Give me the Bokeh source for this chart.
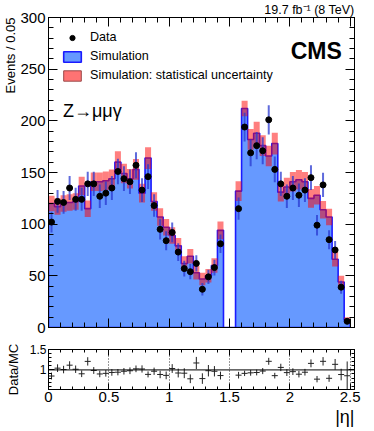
import numpy as np
from bokeh.plotting import figure
from bokeh.layouts import column
from bokeh.models import (ColumnDataSource, Range1d, SingleIntervalTicker, LinearAxis,
                          Label, Legend, LegendItem, Span, CustomJSTickFormatter, Title)
from bokeh.embed import file_html
from bokeh.resources import INLINE

# ---------------- data ----------------
bin_width = 0.05
n_bins = 50
# MC (simulation) counts per bin of |eta| (0.05 wide); gap bins 1.45-1.55 are empty
mc = [120, 117, 120, 121, 122, 137, 115, 141, 141, 142,
      144, 160, 149, 144, 153, 130, 164, 122, 107, 97,
      89, 79, 62, 69, 53, 47, 50, 60, 94, 0,
      0, 132, 212, 182, 188, 176, 166, 178, 131, 136,
      141, 143, 141, 125, 128, 114, 107, 66, 44, 7]
# MC statistical uncertainty (half width of the band)
mc_err = [7.5, 8, 8, 8, 8, 9, 8, 9, 9, 9,
          9, 10.5, 9.5, 9.5, 10, 9, 10.5, 9, 8.5, 8,
          8, 7.5, 7, 7, 6.5, 6, 6.5, 7, 8.5, 0,
          0, 9.5, 7.5, 10, 11, 10, 10, 10.5, 9, 9,
          9.5, 9.5, 9.5, 9, 9, 8.5, 8, 7, 6, 3]
# observed data counts (NaN in the EB/EE gap)
data = [102, 122, 121, 135, 124, 124, 139, 139, 127, 130,
        135, 151, 144, 141, 157, 133, 146, 118, 95, 84,
        92, 73, 57, 54, 62, 37, 49, 58, 81, np.nan,
        np.nan, 115, 194, 169, 176, 171, 201, 153, 139, 127,
        135, 128, 133, 145, 99, 138, 85, 75, 39, 6]

x_ticks_major = 0.5
y_ticks_major = 50

# ---------------- derived ----------------
mc_a = np.array(mc, dtype=float)
err_a = np.array(mc_err, dtype=float)
data_a = np.array(data, dtype=float)
lo = np.round(np.arange(n_bins) * bin_width, 4)
hi = lo + bin_width
ctr = lo + bin_width / 2
data_err = np.sqrt(data_a)

# step outline of simulated histogram (closed polygon down to zero)
sx, sy = [], []
for i in range(n_bins):
    sx += [lo[i], hi[i]]
    sy += [mc_a[i], mc_a[i]]
px = [lo[0]] + sx + [hi[-1]]
py = [0.0] + sy + [0.0]

FONT = "Liberation Sans"
BLUE_FILL = "#6699ff"
BLUE_LINE = "#1a1aff"
NAN1 = [np.nan]

XR = Range1d(0, 2.5356)
YR = Range1d(0, 300)


def inner_axis(ax, maj=9, mnr=5):
    ax.major_tick_in = maj
    ax.major_tick_out = 0
    ax.minor_tick_in = mnr
    ax.minor_tick_out = 0
    ax.axis_line_color = "black"
    ax.major_tick_line_color = "black"
    ax.minor_tick_line_color = "black"
    ax.major_label_text_font = FONT
    ax.major_label_text_color = "black"
    ax.axis_label_text_font = FONT
    ax.axis_label_text_font_style = "normal"
    ax.axis_label_text_color = "black"


def blank_axis(ax):
    ax.major_label_text_font_size = "1px"
    ax.major_label_text_color = None
    ax.major_label_standoff = 0
    ax.axis_label = None


fmt = CustomJSTickFormatter(code="return String(Math.round(tick*100)/100);")

# ---------------- main figure ----------------
p = figure(frame_width=306, frame_height=310, x_range=XR, y_range=YR,
           output_backend="svg", toolbar_location=None,
           min_border_left=48, min_border_right=20, min_border_top=17, min_border_bottom=14,
           background_fill_color="white", border_fill_color="white")
p.outline_line_color = "black"
p.grid.visible = False
p.title.text = "19.7 fb\u207b\u00b9 (8 TeV)"
p.title.align = "right"
p.title.text_font = FONT
p.title.text_font_size = "12.5px"
p.title.text_font_style = "normal"
p.title.text_color = "black"
p.title.standoff = 1

xt = SingleIntervalTicker(interval=x_ticks_major, num_minor_ticks=5)
yt = SingleIntervalTicker(interval=y_ticks_major, num_minor_ticks=5)

xa = p.xaxis[0]
xa.ticker = xt
inner_axis(xa)
blank_axis(xa)

ya = p.yaxis[0]
ya.ticker = yt
inner_axis(ya)
ya.major_label_text_font_size = "15px"
ya.major_label_standoff = 3

# y-axis title, top-aligned (ROOT style)
p.add_layout(Title(text="Events / 0.05", align="right", text_font=FONT, text_font_size="13px",
                   text_font_style="normal", text_color="black", standoff=0, offset=0), "left")

top_ax = LinearAxis(ticker=xt)
inner_axis(top_ax)
blank_axis(top_ax)
p.add_layout(top_ax, "above")
right_ax = LinearAxis(ticker=yt)
inner_axis(right_ax)
blank_axis(right_ax)
p.add_layout(right_ax, "right")

# simulation histogram
r_sim = p.patch(px, py, fill_color=BLUE_FILL, line_color=BLUE_LINE, line_width=1.6)
# statistical uncertainty band
band_src = ColumnDataSource(dict(left=lo, right=hi, bottom=mc_a - err_a, top=mc_a + err_a))
p.quad(left="left", right="right", bottom="bottom", top="top", source=band_src,
       fill_color="#ff0000", fill_alpha=0.5, line_color=None)
# data
dsrc = ColumnDataSource(dict(x=ctr, y=data_a, y0=data_a - data_err, y1=data_a + data_err))
p.segment(x0="x", y0="y0", x1="x", y1="y1", source=dsrc, line_color="#2a3ad0",
          line_alpha=0.75, line_width=2)
r_data = p.scatter("x", "y", source=dsrc, size=6, fill_color="black", line_color="black")

# legend-only renderer for the uncertainty box (NaN -> nothing drawn in the plot)
r_unc = p.quad(left=NAN1, right=NAN1, bottom=NAN1, top=NAN1, fill_color="#ff0000",
               fill_alpha=0.55, line_color="#9a4848", line_width=1)
leg = Legend(items=[LegendItem(label="Data", renderers=[r_data], index=0),
                    LegendItem(label="Simulation", renderers=[r_sim]),
                    LegendItem(label="Simulation: statistical uncertainty", renderers=[r_unc])],
             location="top_left")
leg.margin = 13
leg.padding = 0
leg.spacing = 5
leg.glyph_width = 22
leg.glyph_height = 13
leg.label_standoff = 7
leg.label_text_font = FONT
leg.label_text_font_size = "12.6px"
leg.label_text_color = "black"
leg.label_height = 13
leg.background_fill_alpha = 0
leg.border_line_alpha = 0
p.add_layout(leg)

p.add_layout(Label(x=2.43, y=268, text="CMS", text_font=FONT, text_font_style="bold",
                   text_font_size="23px", text_align="right", text_baseline="alphabetic",
                   text_color="black"))
p.add_layout(Label(x=0.12, y=210, text="Z\u2192\u03bc\u03bc\u03b3", text_font=FONT,
                   text_font_size="18px", text_align="left", text_baseline="alphabetic",
                   text_color="black"))

# ---------------- ratio figure ----------------
r = figure(frame_width=306, frame_height=40, x_range=XR, y_range=Range1d(0.52, 1.5),
           output_backend="svg", toolbar_location=None,
           min_border_left=48, min_border_right=20, min_border_top=8, min_border_bottom=40,
           background_fill_color="white", border_fill_color="white")
r.outline_line_color = "black"
r.ygrid.visible = False
r.xgrid.grid_line_color = "black"
r.xgrid.grid_line_dash = "1 2"
r.xgrid.grid_line_alpha = 0.8

rxt = SingleIntervalTicker(interval=x_ticks_major, num_minor_ticks=5)
ryt = SingleIntervalTicker(interval=0.5, num_minor_ticks=5)
rxa = r.xaxis[0]
rxa.ticker = rxt
inner_axis(rxa, 6, 3)
rxa.formatter = fmt
rxa.major_label_text_font_size = "15px"
rxa.major_label_standoff = 2
rxa.axis_label = None
r.add_layout(Title(text="|\u03b7|", align="right", text_font=FONT, text_font_size="18px",
                   text_font_style="normal", text_color="black", standoff=0, offset=0), "below")

rya = r.yaxis[0]
rya.ticker = ryt
inner_axis(rya, 6, 3)
rya.formatter = fmt
rya.major_label_text_font_size = "12px"
rya.major_label_standoff = 2
rya.axis_label = "Data/MC"
rya.axis_label_text_font_size = "13px"
rya.axis_label_standoff = 6

rtop = LinearAxis(ticker=rxt)
inner_axis(rtop, 6, 3)
blank_axis(rtop)
r.add_layout(rtop, "above")
rright = LinearAxis(ticker=ryt)
inner_axis(rright, 6, 3)
blank_axis(rright)
r.add_layout(rright, "right")

ratio = data_a / np.where(mc_a > 0, mc_a, np.nan)
ratio_err = data_err / np.where(mc_a > 0, mc_a, np.nan)
rsrc = ColumnDataSource(dict(x=ctr, l=lo, h=hi, y=ratio, y0=ratio - ratio_err, y1=ratio + ratio_err))
r.add_layout(Span(location=1, dimension="width", line_color="black", line_width=1))
r.segment(x0="x", y0="y0", x1="x", y1="y1", source=rsrc, line_color="#222222", line_width=1)
r.segment(x0="l", y0="y", x1="h", y1="y", source=rsrc, line_color="#222222", line_width=1)

layout = column(p, r, spacing=0)
open("out.html", "w").write(file_html(layout, INLINE))
